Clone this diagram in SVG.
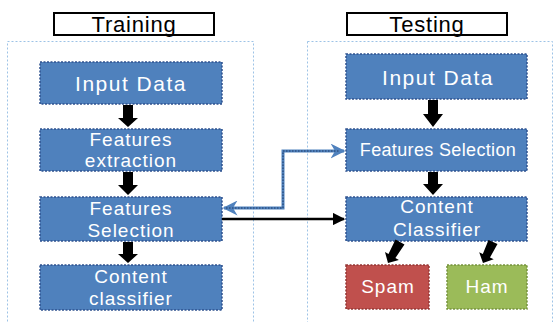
<svg xmlns="http://www.w3.org/2000/svg" width="554" height="322" viewBox="0 0 554 322">
<defs>
<style>
.container{fill:none;stroke:#9dc3e6;stroke-width:1;stroke-dasharray:2,2}
.label{fill:#fff;stroke:#000;stroke-width:2}
.labeltxt{font-family:"Liberation Sans",Arial,sans-serif;font-size:22px;fill:#000;text-anchor:middle;letter-spacing:0.8px}
.box{stroke:#2f528f;stroke-width:1.5;stroke-dasharray:2,1.5}
.blue{fill:#4f81bd}
.red{fill:#c0504d;stroke:#943634}
.green{fill:#9bbb59;stroke:#76923c}
.t{font-family:"Liberation Sans",Arial,sans-serif;fill:#fff;text-anchor:middle;letter-spacing:1px}
.block{fill:#000}
</style>
<marker id="ab" viewBox="0 0 10 10" refX="9" refY="5" markerWidth="5" markerHeight="5" orient="auto-start-reverse" markerUnits="strokeWidth">
<path d="M0,0 L10,5 L0,10 L3,5 Z" fill="#4f81bd"/>
</marker>
<marker id="ak" viewBox="0 0 10 10" refX="9" refY="5" markerWidth="5" markerHeight="5" orient="auto" markerUnits="strokeWidth">
<path d="M0,0 L10,5 L0,10 Z" fill="#000"/>
</marker>
</defs>
<rect width="554" height="322" fill="#fff"/>

<g id="training-area">
<rect class="container" x="7.5" y="41.5" width="246" height="300"/>
<rect class="label" x="54" y="13" width="160" height="22"/>
<text class="labeltxt" x="134" y="32">Training</text>
</g>
<g id="testing-area">
<rect class="container" x="307.5" y="41.5" width="245" height="300"/>
<rect class="label" x="347" y="13" width="160" height="22"/>
<text class="labeltxt" x="427" y="32">Testing</text>
</g>

<g id="train-input">
<rect class="box blue" x="40" y="62" width="182" height="42"/>
<text class="t" x="131" y="91" font-size="21" style="letter-spacing:1.5px">Input Data</text>
</g>
<g id="train-extraction">
<rect class="box blue" x="40" y="129" width="182" height="42"/>
<text class="t" x="131" y="146" font-size="19">Features</text>
<text class="t" x="131" y="167" font-size="19">extraction</text>
</g>
<g id="train-selection">
<rect class="box blue" x="40" y="197" width="182" height="44"/>
<text class="t" x="131" y="215" font-size="19">Features</text>
<text class="t" x="131" y="237" font-size="19">Selection</text>
</g>
<g id="train-classifier">
<rect class="box blue" x="40" y="265" width="182" height="45"/>
<text class="t" x="131" y="283" font-size="19">Content</text>
<text class="t" x="131" y="305" font-size="19">classifier</text>
</g>

<g id="test-input">
<rect class="box blue" x="346" y="54" width="181" height="45"/>
<text class="t" x="438" y="85" font-size="21" style="letter-spacing:1.5px">Input Data</text>
</g>
<g id="test-selection">
<rect class="box blue" x="346" y="129" width="181" height="42"/>
<text class="t" x="438" y="156" font-size="18" style="letter-spacing:0.35px">Features Selection</text>
</g>
<g id="test-classifier">
<rect class="box blue" x="346" y="197" width="181" height="44"/>
<text class="t" x="437" y="213" font-size="19">Content</text>
<text class="t" x="437" y="236" font-size="19">Classifier</text>
</g>
<g id="spam">
<rect class="box red" x="346" y="265" width="83" height="44"/>
<text class="t" x="388" y="293" font-size="19">Spam</text>
</g>
<g id="ham">
<rect class="box green" x="447" y="265" width="80" height="44"/>
<text class="t" x="487" y="293" font-size="19">Ham</text>
</g>

<g id="connectors">
<polygon class="block" points="123,105 133,105 133,118 138,118 128,127 118,118 123,118"/>
<polygon class="block" points="123,172 133,172 133,185 138,185 128,195 118,185 123,185"/>
<polygon class="block" points="123,242 133,242 133,254 138,254 128,263 118,254 123,254"/>
<polygon class="block" points="428,100 438,100 438,114 443,114 433,127 423,114 428,114"/>
<polygon class="block" points="428,172 438,172 438,184 443,184 433,195 423,184 428,184"/>
<polygon class="block" points="404.5,244.5 395.4,258 398.9,260 388,263 385,252.1 388.5,254.1 395.5,239.5"/>
<polygon class="block" points="497.5,244 490,257.5 493.7,259.2 483,263 479.2,252.3 482.8,254.1 488.5,240"/>
<path d="M224,208 H283 V151 H344" fill="none" stroke="#4f81bd" stroke-width="3" marker-start="url(#ab)" marker-end="url(#ab)"/>
<path d="M226,208 H283 V151 H340" fill="none" stroke="#1f3864" stroke-width="1" stroke-dasharray="1.5,1.5"/>
<path d="M222,219 H344" fill="none" stroke="#000" stroke-width="2.5" marker-end="url(#ak)"/>
</g>
</svg>
